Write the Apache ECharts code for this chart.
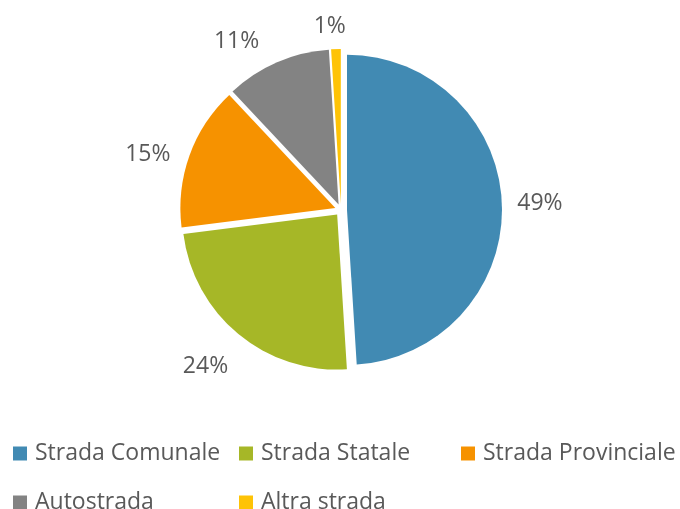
<!DOCTYPE html>
<html>
<head>
<meta charset="utf-8">
<script src="https://cdn.jsdelivr.net/npm/echarts@6/dist/echarts.min.js"></script>
<style>
html,body{margin:0;padding:0;background:#fff;}
#chart{width:680px;height:509px;}
</style>
</head>
<body>
<div id="chart"></div>
<script>
const categories = ['Strada Comunale', 'Strada Statale', 'Strada Provinciale', 'Autostrada', 'Altra strada'];
const values = [49, 24, 15, 11, 1];
const colors = ['#418AB3', '#A6B727', '#F69200', '#838383', '#FEC306'];
// small label nudges (like Excel's "best fit" placement)
const labelNudges = [[-1, 1], [-8, 3], [-5, 13], [-25, 16], [-5, 17]];

const FONT = '"Open Sans", sans-serif';
const TEXT = '#595959';
const FS = 23;

const chart = echarts.init(document.getElementById('chart'), null, {renderer: 'canvas'});

const legendPos = [[13, 442], [239, 442], [461, 442], [13, 491], [239, 491]];
const legends = categories.map((name, i) => ({
  left: legendPos[i][0],
  top: legendPos[i][1],
  padding: 0,
  orient: 'horizontal',
  icon: 'rect',
  itemWidth: 14,
  itemHeight: 14,
  itemGap: 0,
  selectedMode: false,
  data: [name],
  textStyle: {fontFamily: FONT, fontSize: FS, color: TEXT, padding: [0, 0, 0, 3]}
}));

chart.setOption({
  animation: false,
  color: colors,
  legend: legends,
  series: [
    {
      type: 'pie',
      center: [341, 210],
      radius: 155,
      startAngle: 90,
      clockwise: true,
      selectedMode: 'multiple',
      selectedOffset: 6,
      emphasis: {disabled: true},
      label: {show: false},
      labelLine: {show: false},
      data: categories.map((name, i) => ({name, value: values[i], selected: true, itemStyle: {color: colors[i]}}))
    },
    {
      type: 'pie',
      center: [341, 209],
      radius: [187, 207],
      startAngle: 90,
      clockwise: true,
      silent: true,
      selectedMode: false,
      emphasis: {disabled: true},
      itemStyle: {color: 'transparent'},
      label: {
        show: true,
        position: 'inside',
        formatter: p => p.value + '%',
        fontFamily: FONT,
        fontSize: FS,
        color: TEXT
      },
      labelLine: {show: false},
      data: categories.map((name, i) => ({name, value: values[i], label: {offset: labelNudges[i]}}))
    }
  ]
});
</script>
</body>
</html>
